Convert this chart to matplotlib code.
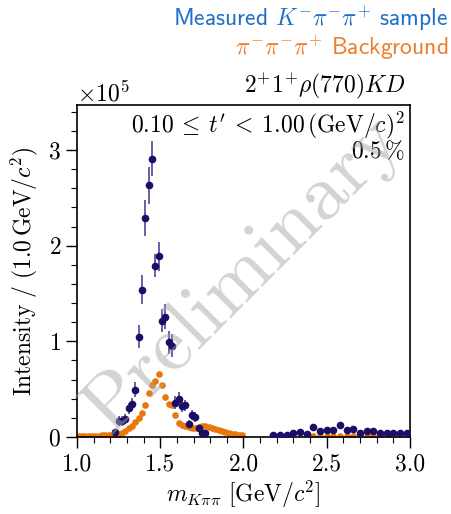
import numpy as np
import matplotlib
matplotlib.use("Agg")
import matplotlib.pyplot as plt
from matplotlib.ticker import MultipleLocator, ScalarFormatter

plt.rcParams['mathtext.fontset'] = 'cm'
plt.rcParams['font.family'] = 'serif'
plt.rcParams['font.serif'] = ['cmr10']
plt.rcParams['axes.formatter.use_mathtext'] = True

# ---- data (intensity in units of 1e5) ----
sig_x_lo = [1.23, 1.25, 1.27, 1.29, 1.31, 1.33, 1.35, 1.37, 1.39, 1.41, 1.43, 1.45, 1.47, 1.49,
            1.51, 1.53, 1.55, 1.57, 1.59, 1.61, 1.63, 1.65, 1.67, 1.69, 1.71, 1.73, 1.75, 1.77]
sig_y_lo = [0.05, 0.17, 0.17, 0.19, 0.30, 0.345, 0.495, 1.05, 1.54, 2.29, 2.63, 2.91, 1.79, 1.89,
            1.215, 1.257, 0.99, 0.955, 0.36, 0.40, 0.325, 0.33, 0.14, 0.23, 0.21, 0.09, 0.045, 0.038]
sig_e_lo = [0.03, 0.05, 0.05, 0.05, 0.06, 0.06, 0.08, 0.12, 0.15, 0.19, 0.19, 0.18, 0.12, 0.15,
            0.12, 0.13, 0.12, 0.12, 0.07, 0.07, 0.06, 0.06, 0.04, 0.05, 0.05, 0.03, 0.02, 0.02]
sig_x_hi = [2.18, 2.22, 2.26, 2.30, 2.34, 2.38, 2.42, 2.46, 2.50, 2.54, 2.58, 2.62, 2.66, 2.70,
            2.74, 2.78, 2.82, 2.86, 2.90, 2.94, 2.98]
sig_y_hi = [0.021, 0.021, 0.021, 0.038, 0.052, 0.031, 0.101, 0.063, 0.073, 0.073, 0.129, 0.073,
            0.080, 0.045, 0.063, 0.063, 0.038, 0.038, 0.038, 0.045, 0.045]

bkg_x_lo = [1.01, 1.03, 1.05, 1.07, 1.09, 1.11, 1.13, 1.15, 1.17, 1.19, 1.21, 1.23, 1.25, 1.27,
            1.29, 1.31, 1.33, 1.35, 1.37, 1.39, 1.41, 1.43, 1.45, 1.47, 1.49, 1.51, 1.53, 1.55,
            1.57, 1.59, 1.61, 1.63, 1.65, 1.67, 1.69, 1.71, 1.73, 1.75, 1.77, 1.79, 1.81, 1.83,
            1.85, 1.87, 1.89, 1.91, 1.93, 1.95, 1.97, 1.99]
bkg_y_lo = [0.015, 0.015, 0.015, 0.015, 0.015, 0.015, 0.015, 0.016, 0.016, 0.017, 0.02, 0.022, 0.03, 0.04,
            0.06, 0.09, 0.12, 0.16, 0.20, 0.25, 0.33, 0.46, 0.54, 0.59, 0.66, 0.54, 0.42, 0.345,
            0.335, 0.23, 0.15, 0.125, 0.11, 0.10, 0.09, 0.09, 0.10, 0.11, 0.11, 0.10, 0.09, 0.08,
            0.07, 0.06, 0.05, 0.04, 0.035, 0.03, 0.025, 0.02]
bkg_x_hi = [2.38, 2.42, 2.46, 2.50, 2.54, 2.58, 2.62, 2.66, 2.70, 2.74, 2.78, 2.82, 2.86, 2.90,
            2.94, 2.98]
bkg_y_hi = [0.012, 0.012, 0.012, 0.012, 0.012, 0.012, 0.012, 0.012, 0.012, 0.012, 0.012, 0.012,
            0.012, 0.012, 0.012, 0.012]

scale = 1e5
sig_x = np.array(sig_x_lo + sig_x_hi)
sig_y = np.array(sig_y_lo + sig_y_hi) * scale
sig_e = np.array(sig_e_lo + [0.0] * len(sig_x_hi)) * scale
bkg_x = np.array(bkg_x_lo + bkg_x_hi)
bkg_y = np.array(bkg_y_lo + bkg_y_hi) * scale

sig_color = '#1c0d66'
bkg_color = '#e8780c'
FS = 17

fig = plt.figure(figsize=(4.52, 5.14), dpi=100)
ax = fig.add_axes([77/452, 1 - 437/514, 333/452, 332/514])

ax.plot(bkg_x, bkg_y, 'o', color=bkg_color, ms=4.8, mew=0, zorder=2)
ax.errorbar(sig_x, sig_y, yerr=sig_e, fmt='o', color=sig_color, ms=5.5, mew=0,
            ecolor='#5e53a0', elinewidth=1.3, capsize=0, zorder=3)

ax.set_xlim(1.0, 3.0)
ax.set_ylim(0, 3.47e5)
ax.xaxis.set_major_locator(MultipleLocator(0.5))
ax.xaxis.set_minor_locator(MultipleLocator(0.1))
ax.yaxis.set_major_locator(MultipleLocator(1e5))
ax.yaxis.set_minor_locator(MultipleLocator(0.2e5))
fmt = ScalarFormatter(useMathText=True)
fmt.set_powerlimits((0, 0))
ax.yaxis.set_major_formatter(fmt)
ax.xaxis.set_major_formatter(matplotlib.ticker.FormatStrFormatter('%.1f'))
ax.tick_params(which='both', direction='out', top=False, right=False, labelsize=FS)
ax.tick_params(which='major', length=8, width=1)
ax.tick_params(which='minor', length=4, width=0.8)
ax.yaxis.get_offset_text().set_fontsize(FS)
for s in ax.spines.values():
    s.set_linewidth(1.2)

ax.set_xlabel(r'$m_{K\pi\pi}\ [\mathrm{GeV}/c^2]$', fontsize=FS, labelpad=3)
ax.set_ylabel(r'$\mathrm{Intensity}\ /\ (1.0\,\mathrm{GeV}/c^2)$', fontsize=FS, labelpad=6)

ax.text(0.985, 0.985, r'$0.10\:\leq\:t^{\prime}\:<\:1.00\,(\mathrm{GeV}/c)^2$', transform=ax.transAxes,
        ha='right', va='top', fontsize=FS)
ax.text(0.985, 0.895, r'$0.5\,\%$', transform=ax.transAxes, ha='right', va='top', fontsize=FS)
ax.text(0.985, 1.012, r'$2^{+}1^{+}\rho(770)KD$', transform=ax.transAxes, ha='right', va='bottom',
        fontsize=FS)

ax.text(0.5, 0.49, 'Preliminary', transform=ax.transAxes, rotation=45, ha='center', va='center',
        fontsize=58, color='#a8a8a8', alpha=0.5, zorder=5, family='serif')

fig.text(448/452, 1 - 26/514, r'Measured $K^{-}\pi^{-}\pi^{+}$ sample', ha='right', va='baseline',
         fontsize=FS, color='#1f6fc8', family='cmss10')
fig.text(448/452, 1 - 55/514, r'$\pi^{-}\pi^{-}\pi^{+}$ Background', ha='right', va='baseline',
         fontsize=FS, color='#ee7d2b', family='cmss10')

fig.savefig('out.png', dpi=100)
